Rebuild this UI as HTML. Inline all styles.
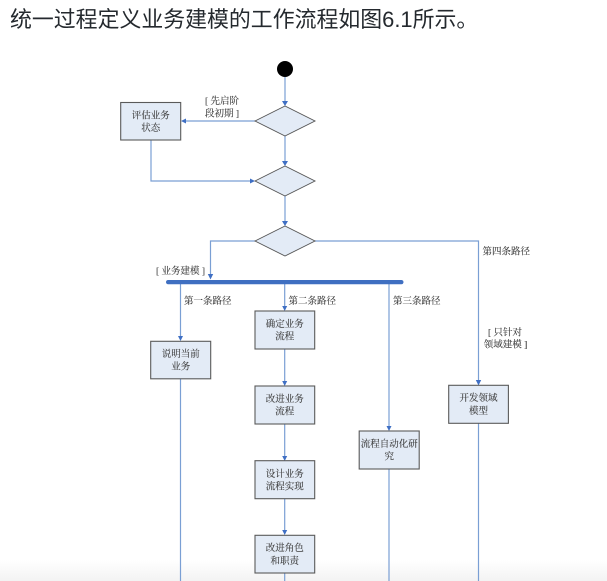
<!DOCTYPE html>
<html>
<head>
<meta charset="utf-8">
<style>
html,body{margin:0;padding:0;background:#fff;width:607px;height:581px;overflow:hidden}
svg{position:absolute;left:0;top:0;display:block}
.t{font-family:"Liberation Serif","Noto Serif CJK SC",serif;font-size:9.5px;fill:#333;stroke:#555;stroke-width:.12;letter-spacing:0}
.m{text-anchor:middle}
.title{font-family:"Liberation Sans","Noto Sans CJK SC",sans-serif;font-size:21.9px;fill:#24292e}
.l{fill:none;stroke:#7a9fd4;stroke-width:1.2}
.a{fill:#3f6fc4}
.d{fill:#e3ebf6;stroke:#555;stroke-width:.9}
.b{fill:#e3ebf6;stroke:#5a5a5a;stroke-width:1.1}
</style>
</head>
<body>
<svg width="607" height="581" viewBox="0 0 607 581" xmlns="http://www.w3.org/2000/svg">
<defs><linearGradient id="g" x1="0" y1="0" x2="0" y2="1"><stop offset="0" stop-color="#fff"/><stop offset="1" stop-color="#f3f3f3"/></linearGradient></defs>
<rect x="0" y="560" width="607" height="21" fill="url(#g)"/>
<text class="title" x="10" y="27">统一过程定义业务建模的工作流程如图6.1所示。</text>

<circle cx="285" cy="69" r="8" fill="#000"/>

<path class="l" d="M285 77V101M285 136V161M285 196V221M255 121H185M151 140V181H250"/>
<path class="l" d="M255 241H210.500V274M315 241H478.500V380"/>
<path class="l" d="M180.500 284V336M180.500 379V581M284.700 284V306M284.700 349V381M284.700 424V456M284.700 499V530M284.700 573V581M389 284V426M389 469V581M478.500 423V581"/>

<path class="a" d="M282 101H288L285 106ZM282 161H288L285 166ZM282 221H288L285 226Z"/>
<path class="a" d="M181 121L186 118.500V123.500ZM255 181L250 178.500V183.500Z"/>
<path class="a" d="M207.800 274H213.200L210.500 279.500ZM475.800 380H481.200L478.500 385.500ZM178 336H183L180.500 341ZM282.200 306H287.200L284.700 311ZM282.200 381H287.200L284.700 386ZM282.200 456H287.200L284.700 461ZM282.200 530H287.200L284.700 535ZM386.500 426H391.500L389 431Z"/>

<path class="d" d="M255 121L285 106L315 121L285 136Z"/>
<path class="d" d="M255 181L285 166L315 181L285 196Z"/>
<path class="d" d="M255 241L285 226L315 241L285 256Z"/>

<rect x="166" y="280" width="237.500" height="4.200" rx="2.100" fill="#3f6fc1"/>

<rect class="b" x="120.700" y="102.500" width="60" height="37.500"/>
<rect class="b" x="150.700" y="341.300" width="60" height="37.500"/>
<rect class="b" x="255" y="311" width="59.700" height="38"/>
<rect class="b" x="255" y="386" width="59.700" height="38"/>
<rect class="b" x="255" y="460.700" width="59.700" height="38"/>
<rect class="b" x="255" y="535.300" width="59.700" height="37.700"/>
<rect class="b" x="359.200" y="431" width="60" height="38"/>
<rect class="b" x="448.700" y="385.300" width="59.700" height="38"/>

<text class="t m" x="150.700" y="118.500">评估业务</text>
<text class="t m" x="150.700" y="131">状态</text>
<text class="t m" x="222" y="104">[ 先启阶</text>
<text class="t m" x="222" y="116.500">段初期 ]</text>
<text class="t" x="156" y="274">[ 业务建模 ]</text>
<text class="t" x="184" y="304">第一条路径</text>
<text class="t" x="288.500" y="304">第二条路径</text>
<text class="t" x="393" y="304">第三条路径</text>
<text class="t" x="482.500" y="254.500">第四条路径</text>
<text class="t m" x="505" y="335.500">[ 只针对</text>
<text class="t m" x="505.500" y="347.500">领域建模 ]</text>
<text class="t m" x="180.700" y="357">说明当前</text>
<text class="t m" x="180.700" y="369.500">业务</text>
<text class="t m" x="284.800" y="327">确定业务</text>
<text class="t m" x="284.800" y="339.500">流程</text>
<text class="t m" x="284.800" y="402">改进业务</text>
<text class="t m" x="284.800" y="414.500">流程</text>
<text class="t m" x="284.800" y="477">设计业务</text>
<text class="t m" x="284.800" y="489.500">流程实现</text>
<text class="t m" x="284.800" y="551">改进角色</text>
<text class="t m" x="284.800" y="564">和职责</text>
<text class="t m" x="389.200" y="447">流程自动化研</text>
<text class="t m" x="389.200" y="459.500">究</text>
<text class="t m" x="478.500" y="401">开发领域</text>
<text class="t m" x="478.500" y="414">模型</text>
</svg>
</body>
</html>
